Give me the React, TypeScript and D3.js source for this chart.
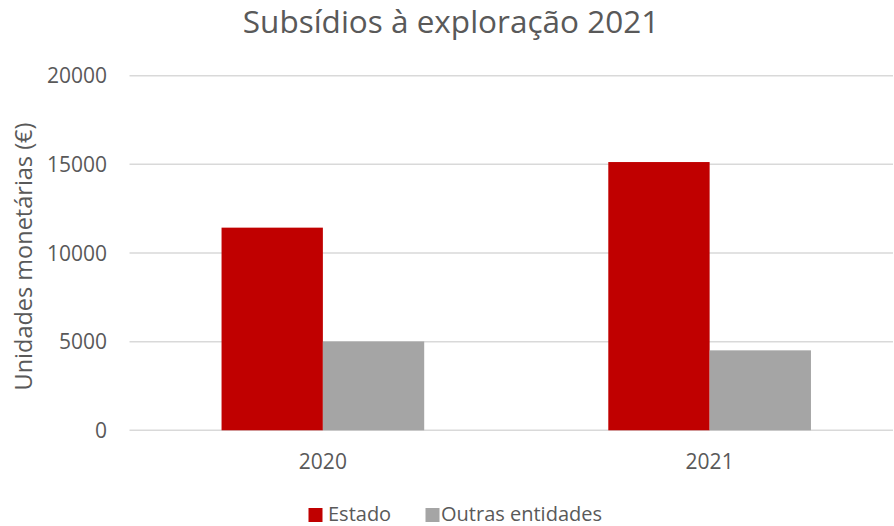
import React from "react";
import * as d3 from "d3";

const categories = ["2020", "2021"];
const seriesNames = ["Estado", "Outras entidades"];
const estado = [11430, 15130];
const outras = [5010, 4510];
const yTicks = [0, 5000, 10000, 15000, 20000];
const colors = ["#C00000", "#A5A5A5"];

const W = 894;
const H = 526;
const FONT = "'Open Sans', sans-serif";
const TEXT = "#595959";

export default function App() {
  const x0 = d3.scaleBand<string>().domain(categories).range([129.5, 903]).paddingInner(0.476).paddingOuter(0.238);
  const x1 = d3.scaleBand<string>().domain(seriesNames).range([0, x0.bandwidth()]).padding(0);
  const y = d3.scaleLinear().domain([0, 20000]).range([430.3, 75.7]);
  const values = [estado, outras];

  return (
    <svg width={W} height={H} style={{ position: "absolute", left: 0, top: 0, background: "#fff" }}>
      <text x={451} y={33} textAnchor="middle" fontFamily={FONT} fontSize={31.5} fill={TEXT}>
        Subsídios à exploração 2021
      </text>
      {yTicks.map((t) => (
        <g key={t}>
          <line x1={129.5} x2={893} y1={y(t)} y2={y(t)} stroke="#D9D9D9" strokeWidth={1.5} />
          <text x={107} y={y(t)} dy="0.36em" textAnchor="end" fontFamily={FONT} fontSize={21} fill={TEXT}>
            {t}
          </text>
        </g>
      ))}
      {categories.map((c, ci) => (
        <g key={c}>
          {seriesNames.map((s, si) => (
            <rect
              key={s}
              x={(x0(c) as number) + (x1(s) as number)}
              y={y(values[si][ci])}
              width={x1.bandwidth()}
              height={y(0) - y(values[si][ci])}
              fill={colors[si]}
            />
          ))}
          <text x={(x0(c) as number) + x0.bandwidth() / 2} y={469} textAnchor="middle" fontFamily={FONT} fontSize={21} fill={TEXT}>
            {c}
          </text>
        </g>
      ))}
      <text
        transform="translate(32,256.5) rotate(-90)"
        textAnchor="middle"
        fontFamily={FONT}
        fontSize={23.5}
        fill={TEXT}
      >
        Unidades monetárias (€)
      </text>
      <g>
        <rect x={308.5} y={508} width={14} height={14} fill={colors[0]} />
        <text x={328} y={521} fontFamily={FONT} fontSize={20} fill={TEXT}>
          {seriesNames[0]}
        </text>
        <rect x={425.5} y={508} width={14} height={14} fill={colors[1]} />
        <text x={441} y={521} fontFamily={FONT} fontSize={20} fill={TEXT}>
          {seriesNames[1]}
        </text>
      </g>
    </svg>
  );
}
